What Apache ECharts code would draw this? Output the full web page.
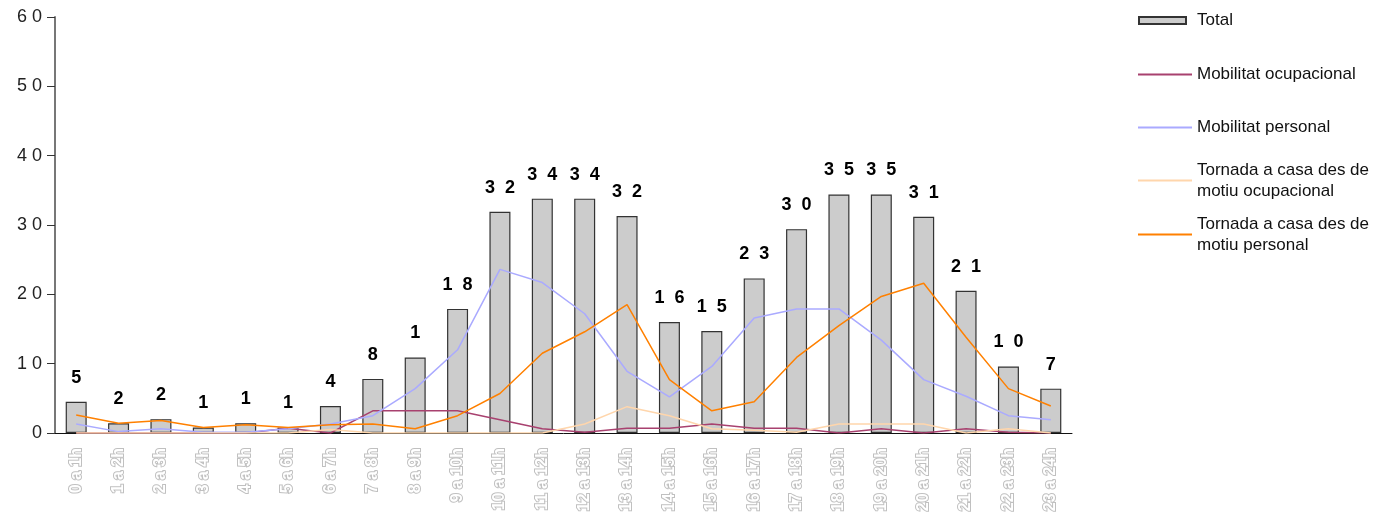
<!DOCTYPE html>
<html>
<head>
<meta charset="utf-8">
<script src="https://cdn.jsdelivr.net/npm/echarts@6/dist/echarts.min.js"></script>
<style>
  html, body { margin: 0; padding: 0; background: #fff; }
  #chart { width: 1385px; height: 524px; }
</style>
</head>
<body>
<div id="chart"></div>
<script>
  // franges horaries
  const hours = ['0 a 1h', '1 a 2h', '2 a 3h', '3 a 4h', '4 a 5h', '5 a 6h', '6 a 7h', '7 a 8h',
    '8 a 9h', '9 a 10h', '10 a 11h', '11 a 12h', '12 a 13h', '13 a 14h', '14 a 15h', '15 a 16h',
    '16 a 17h', '17 a 18h', '18 a 19h', '19 a 20h', '20 a 21h', '21 a 22h', '22 a 23h', '23 a 24h']

  const total = [4.5, 1.4, 2.0, 0.8, 1.4, 0.8, 3.9, 7.8, 10.9, 17.9, 31.9, 33.8,
    33.8, 31.3, 16.0, 14.7, 22.3, 29.4, 34.4, 34.4, 31.2, 20.5, 9.6, 6.4]
  // etiquetes tal com surten al grafic
  const totalLabels = ['5', '2', '2', '1', '1', '1', '4', '8', '1', '1  8', '3  2', '3  4',
    '3  4', '3  2', '1  6', '1  5', '2  3', '3  0', '3  5', '3  5', '3  1', '2  1', '1  0', '7']

  const mobOcupacional = [0, 0, 0, 0, 0, 0.7, 0, 3.2, 3.2, 3.2, 1.9, 0.6,
    0.1, 0.7, 0.7, 1.3, 0.7, 0.7, 0, 0.6, 0, 0.6, 0.1, 0]
  const mobPersonal = [1.3, 0.2, 0.6, 0.1, 0.1, 0.6, 1.3, 2.5, 6.4, 12.0, 23.6, 21.7,
    17.2, 8.9, 5.2, 9.6, 16.6, 17.9, 17.9, 13.4, 7.7, 5.3, 2.5, 1.9]
  const tornadaOcupacional = [0, 0, 0, 0, 0, 0, 0.5, 0, 0, 0, 0, 0,
    1.3, 3.8, 2.5, 0.6, 0.4, 0.1, 1.3, 1.3, 1.3, 0, 0.6, 0]
  const tornadaPersonal = [2.6, 1.4, 1.8, 0.8, 1.2, 0.8, 1.2, 1.3, 0.6, 2.5, 5.7, 11.5,
    14.6, 18.5, 7.7, 3.2, 4.5, 10.9, 15.5, 19.7, 21.6, 13.8, 6.4, 3.9]

  const names = ['Total', 'Mobilitat ocupacional', 'Mobilitat personal',
    'Tornada a casa des de\nmotiu ocupacional', 'Tornada a casa des de\nmotiu personal']

  const font = 'Liberation Sans, Arial, sans-serif'
  const legendText = { color: '#111', fontSize: 17, lineHeight: 21, fontFamily: font }

  function lineSeries (name, data, color) {
    return {
      name: name,
      type: 'line',
      data: data,
      symbol: 'none',
      lineStyle: { color: color, width: 1.5 },
      itemStyle: { color: color }
    }
  }

  function lineLegend (name, top, twoLines) {
    return {
      data: [name],
      left: 1138,
      top: top,
      padding: 0,
      icon: 'rect',
      itemWidth: 54,
      itemHeight: 2,
      textStyle: Object.assign({}, legendText, twoLines ? { padding: [21, 0, 0, 0] } : {})
    }
  }

  let myChart = echarts.init(document.getElementById('chart'))
  myChart.setOption({
    animation: false,
    backgroundColor: '#fff',
    grid: { left: 55, right: 313, top: 17, bottom: 91 },
    legend: [
      { data: [names[0]], left: 1138, top: 10, padding: 0, icon: 'rect', itemWidth: 47, itemHeight: 7,
        textStyle: Object.assign({}, legendText, { padding: [0, 0, 0, 6] }) },
      lineLegend(names[1], 64, false),
      lineLegend(names[2], 117, false),
      lineLegend(names[3], 149, true),
      lineLegend(names[4], 203, true)
    ],
    xAxis: {
      type: 'category',
      data: hours,
      boundaryGap: true,
      axisLine: { lineStyle: { color: '#111', width: 1 } },
      axisTick: { length: 8, lineStyle: { color: '#222' } },
      axisLabel: {
        rotate: 90,
        interval: 0,
        margin: 15,
        fontSize: 16,
        fontWeight: 'bold',
        fontFamily: font,
        color: '#fff',
        textBorderColor: '#c0c0c0',
        textBorderWidth: 2
      },
      splitLine: { show: false }
    },
    yAxis: {
      type: 'value',
      min: 0,
      max: 60,
      interval: 10,
      axisLine: { show: true, lineStyle: { color: '#777', width: 2 } },
      axisTick: { show: true, length: 8, lineStyle: { color: '#333' } },
      axisLabel: {
        margin: 13,
        fontSize: 18,
        fontFamily: font,
        color: '#222',
        formatter: function (v) { return String(v).split('').join(' ') }
      },
      splitLine: { show: false }
    },
    series: [
      {
        name: names[0],
        type: 'bar',
        data: total,
        barWidth: 21,
        itemStyle: { color: '#cccccc', borderColor: '#333', borderWidth: 1.2 },
        label: {
          show: true,
          position: 'top',
          distance: 14,
          fontSize: 18,
          lineHeight: 20,
          fontWeight: 'bold',
          fontFamily: font,
          color: '#000',
          formatter: function (p) { return totalLabels[p.dataIndex] }
        }
      },
      lineSeries(names[1], mobOcupacional, '#a8416f'),
      lineSeries(names[2], mobPersonal, '#aaaaff'),
      lineSeries(names[3], tornadaOcupacional, '#ffd6ac'),
      lineSeries(names[4], tornadaPersonal, '#ff8000')
    ]
  })
</script>
</body>
</html>
